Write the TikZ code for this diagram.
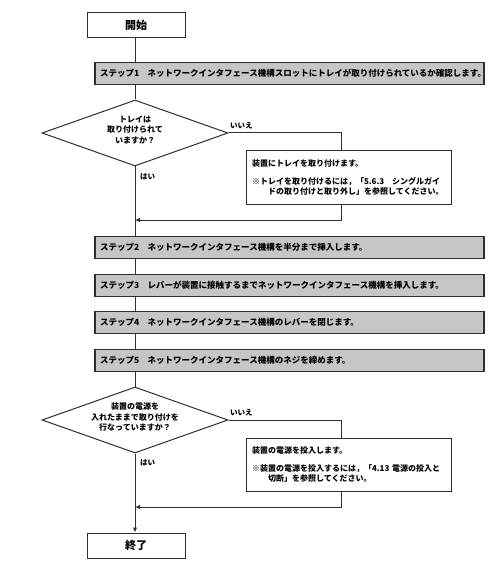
\documentclass[tikz,border=0pt]{standalone}
\usepackage{fontspec}
\setmainfont{Noto Sans CJK JP}
\usetikzlibrary{arrows.meta,shapes.geometric}
\definecolor{ln}{HTML}{2E2E2E}
\definecolor{stepfill}{HTML}{C6C6C6}
\begin{document}
\begin{tikzpicture}[x=1pt,y=-1pt,
  term/.style={draw=ln, line width=1pt, minimum width=98pt, minimum height=25pt, inner sep=0pt, font=\fontsize{11}{13}\selectfont\bfseries},
  stepbox/.style={draw=ln, fill=stepfill, line width=1.2pt, minimum width=389pt, minimum height=22pt, inner xsep=5pt, inner ysep=0pt, text width=379pt, align=left, font=\fontsize{8.5}{10}\selectfont\bfseries},
  dec/.style={diamond, draw=ln, line width=1pt, minimum width=186pt, minimum height=66pt, inner sep=0pt},
  dectext/.style={align=center, font=\fontsize{8}{10.5}\selectfont\bfseries, inner sep=0pt},
  notebox/.style={draw=ln, line width=1pt, minimum width=205pt, minimum height=53pt, inner xsep=6pt, inner ysep=0pt, text width=193pt, align=left, font=\fontsize{8}{10}\selectfont\bfseries},
  lbl/.style={font=\fontsize{7.5}{9}\selectfont\bfseries, inner sep=0pt},
  flow/.style={draw=ln, line width=1pt},
  arr/.style={flow, -{Latex[length=5pt,width=4.5pt]}}
]
\useasboundingbox (0,0) rectangle (492,569);

\node[term] (start) at (136,25) {開始};
\node[stepbox] (s1) at (289.5,73.5) {ステップ1\quad ネットワークインタフェース機構スロットにトレイが取り付けられているか確認します。};
\node[dec] (d1) at (135,133) {};
\node[dectext] (d1t) at (135,130) {トレイは\\取り付けられて\\いますか？};
\node[notebox] (b1) at (348.5,177.5) {装置にトレイを取り付けます。\\[8pt]※トレイを取り付けるには，「5.6.3　シングルガイ\\\hspace*{2em}ドの取り付けと取り外し」を参照してください。};
\coordinate (m1) at (135,220);
\node[stepbox] (s2) at (289.5,247.5) {ステップ2\quad ネットワークインタフェース機構を半分まで挿入します。};
\node[stepbox] (s3) at (289.5,285.5) {ステップ3\quad レバーが装置に接触するまでネットワークインタフェース機構を挿入します。};
\node[stepbox] (s4) at (289.5,322.5) {ステップ4\quad ネットワークインタフェース機構のレバーを閉じます。};
\node[stepbox] (s5) at (289.5,360.5) {ステップ5\quad ネットワークインタフェース機構のネジを締めます。};
\node[dec] (d2) at (135,420) {};
\node[dectext] (d2t) at (135,417) {装置の電源を\\入れたままで取り付けを\\行なっていますか？};
\node[notebox] (b2) at (348.5,464.5) {装置の電源を投入します。\\[8pt]※装置の電源を投入するには，「4.13 電源の投入と\\\hspace*{2em}切断」を参照してください。};
\coordinate (m2) at (135,507);
\node[term] (end) at (136,545.5) {終了};

\node[lbl, anchor=west] (no1) at (230,126) {いいえ};
\node[lbl, anchor=west] (yes1) at (140,177) {はい};
\node[lbl, anchor=west] (no2) at (230,413) {いいえ};
\node[lbl, anchor=west] (yes2) at (140,463) {はい};

\draw[flow] (135,0 |- start.south) -- (135,0 |- s1.north);
\draw[flow] (135,0 |- s1.south) -- (d1.north);
\draw[flow] (d1.south) -- (135,0 |- s2.north);
\draw[flow] (d1.east) -- (341,133) -- (341,0 |- b1.north);
\draw[arr] (341,0 |- b1.south) -- (341,220) -- (m1);
\draw[flow] (135,0 |- s2.south) -- (135,0 |- s3.north);
\draw[flow] (135,0 |- s3.south) -- (135,0 |- s4.north);
\draw[flow] (135,0 |- s4.south) -- (135,0 |- s5.north);
\draw[flow] (135,0 |- s5.south) -- (d2.north);
\draw[flow] (d2.east) -- (341,420) -- (341,0 |- b2.north);
\draw[arr] (341,0 |- b2.south) -- (341,507) -- (m2);
\draw[arr] (d2.south) -- (135,0 |- end.north);
\end{tikzpicture}
\end{document}
